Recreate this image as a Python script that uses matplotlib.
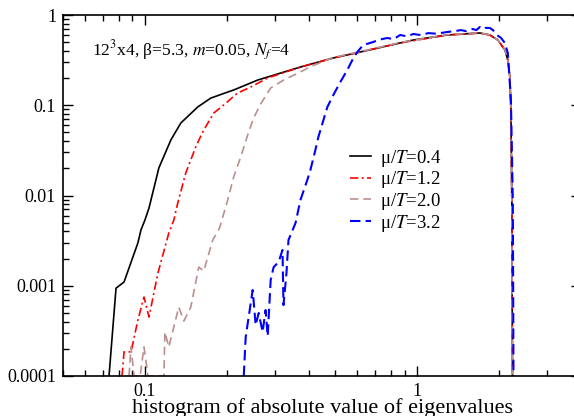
import matplotlib
matplotlib.use('Agg')
import matplotlib.pyplot as plt
from matplotlib.ticker import FixedLocator, LogLocator, NullFormatter, FixedFormatter

plt.rcParams['font.family'] = ['Liberation Serif', 'DejaVu Serif']
plt.rcParams['mathtext.fontset'] = 'stix'

# mu/T = 0.4
black_x = [0.0738, 0.0783, 0.0838, 0.0942, 0.0967, 0.100, 0.1035, 0.1125, 0.1245, 0.1355,
           0.1563, 0.1745, 0.2014, 0.2118, 0.2594, 0.2825, 0.3726, 0.492, 0.618, 0.866,
           0.967, 1.288, 1.70, 1.851, 1.980, 2.101, 2.154, 2.192, 2.211, 2.228, 2.247]
black_y = [1e-4, 9.4e-4, 1.10e-3, 2.98e-3, 4.15e-3, 5.35e-3, 7.27e-3, 0.0202, 0.0412, 0.0636,
           0.0957, 0.120, 0.140, 0.1476, 0.190, 0.2056, 0.265, 0.334, 0.389, 0.490,
           0.528, 0.600, 0.632, 0.600, 0.528, 0.41, 0.317, 0.2056, 0.0886, 0.0089, 1e-5]

# mu/T = 1.2
red_x = [0.0824, 0.0838, 0.0889, 0.0942, 0.0992, 0.1035, 0.1116, 0.1224, 0.1277, 0.132,
         0.1413, 0.1537, 0.1630, 0.179, 0.1947, 0.219, 0.2445, 0.2825, 0.3726, 0.492,
         0.618, 0.866, 1.288, 1.70, 1.851, 1.980, 2.101, 2.154, 2.192, 2.211, 2.228, 2.247]
red_y = [1e-4, 1.85e-4, 1.85e-4, 4.17e-4, 7.5e-4, 4.5e-4, 1.38e-3, 3.84e-3, 5.35e-3, 8.26e-3,
         0.0178, 0.0345, 0.0506, 0.082, 0.1006, 0.1367, 0.159, 0.2005, 0.265, 0.334,
         0.389, 0.49, 0.60, 0.63, 0.60, 0.53, 0.41, 0.317, 0.2056, 0.0886, 0.0089, 1e-5]

# mu/T = 2.0
brown_x = [0.0874, 0.0889, 0.0912, 0.0960, 0.0992, 0.1026, 0.1174, 0.1184, 0.1224, 0.1331,
           0.139, 0.1474, 0.1577, 0.1644, 0.1775, 0.188, 0.2014, 0.2118, 0.2248, 0.2385,
           0.2508, 0.266, 0.2895, 0.323, 0.3726, 0.4055, 0.492, 0.618, 0.866, 1.288,
           1.70, 1.851, 1.980, 2.101, 2.154, 2.192, 2.211, 2.228, 2.247]
brown_y = [1e-4, 2.1e-4, 1e-4, 1e-4, 2.1e-4, 1e-4, 1e-4, 3.07e-4, 2.1e-4, 5.8e-4,
           4.07e-4, 5.8e-4, 1.61e-3, 1.46e-3, 3.21e-3, 4.37e-3, 8.9e-3, 0.016, 0.0267, 0.0468,
           0.0722, 0.103, 0.155, 0.190, 0.234, 0.268, 0.338, 0.393, 0.495, 0.605,
           0.635, 0.60, 0.53, 0.41, 0.317, 0.2056, 0.0886, 0.0089, 1e-5]

# mu/T = 3.2
blue_x = [0.2307, 0.2345, 0.2488, 0.2552, 0.2618, 0.2706, 0.2775, 0.2825, 0.2897, 0.2971,
          0.3098, 0.3202, 0.3228, 0.3311, 0.3368, 0.3575, 0.3726, 0.395, 0.4055, 0.4228,
          0.4337, 0.468, 0.4923, 0.5224, 0.554, 0.578, 0.6027, 0.634, 0.690, 0.72,
          0.776, 0.82, 0.866, 0.92, 0.967, 1.03, 1.10, 1.18, 1.288, 1.36, 1.45, 1.52,
          1.60, 1.65, 1.70, 1.74, 1.78, 1.851, 1.90, 1.963, 2.03, 2.101, 2.154, 2.211,
          2.247, 2.266]
blue_y = [1e-4, 2.7e-4, 8.97e-4, 3.67e-4, 4.99e-4, 3.07e-4, 5.38e-4, 2.77e-4, 1.16e-3, 1.61e-3,
          1.83e-3, 2.49e-3, 6.1e-4, 1.38e-3, 3.21e-3, 4.96e-3, 8.9e-3, 0.0149, 0.0192, 0.0319,
          0.0445, 0.0957, 0.130, 0.181, 0.246, 0.317, 0.389, 0.465, 0.502, 0.53,
          0.556, 0.54, 0.60, 0.58, 0.616, 0.60, 0.63, 0.62, 0.648, 0.66, 0.68, 0.66,
          0.70, 0.68, 0.736, 0.70, 0.72, 0.718, 0.68, 0.60, 0.56, 0.49, 0.379, 0.114,
          0.0089, 1e-5]

labels = ['μ/$T$=0.4', 'μ/$T$=1.2', 'μ/$T$=2.0', 'μ/$T$=3.2']
ytick_vals = [1e-4, 1e-3, 1e-2, 1e-1, 1]
ytick_text = ['0.0001', '0.001', '0.01', '0.1', '1']

fig = plt.figure(figsize=(5.74, 4.16), dpi=100)
ax = fig.add_axes([63 / 574, 40 / 416, 518 / 574, 361 / 416])

ax.plot(black_x, black_y, color='black', lw=1.2, label=labels[0])
ax.plot(red_x, red_y, color='red', lw=1.2, dashes=(5, 2, 1.2, 2), label=labels[1])
ax.plot(brown_x, brown_y, color='#bc8f8f', lw=1.2, dashes=(5, 3), label=labels[2])
ax.plot(blue_x, blue_y, color='blue', lw=1.5, dashes=(5, 2.5), label=labels[3])

ax.set_xscale('log')
ax.set_yscale('log')
ax.set_xlim(0.05, 4)
ax.set_ylim(1e-4, 1)

ax.xaxis.set_major_locator(FixedLocator([0.1, 1]))
ax.xaxis.set_major_formatter(FixedFormatter(['0.1', '1']))
ax.xaxis.set_minor_locator(LogLocator(base=10, subs=range(2, 10)))
ax.xaxis.set_minor_formatter(NullFormatter())
ax.yaxis.set_major_locator(FixedLocator(ytick_vals))
ax.yaxis.set_major_formatter(FixedFormatter(ytick_text))
ax.yaxis.set_minor_locator(LogLocator(base=10, subs=range(2, 10)))
ax.yaxis.set_minor_formatter(NullFormatter())

ax.tick_params(which='both', direction='in', top=True, right=True, labelsize=13, width=1)
ax.tick_params(which='major', length=7, pad=5)
ax.tick_params(which='minor', length=4)
for s in ax.spines.values():
    s.set_linewidth(1.2)

ax.set_xlabel('histogram of absolute value of eigenvalues', fontsize=16, labelpad=-1)

ax.text(0.056, 0.903, '12$^3$x4, β=5.3, $m$=0.05, $N_f$=4', transform=ax.transAxes,
        fontsize=12.6, va='center', ha='left')

ax.legend(loc='upper left', bbox_to_anchor=(0.554, 0.632), frameon=False, fontsize=13.5,
          handlelength=1.1, handletextpad=0.5, labelspacing=0.03, borderpad=0, borderaxespad=0)

fig.savefig('out.png', dpi=100)
